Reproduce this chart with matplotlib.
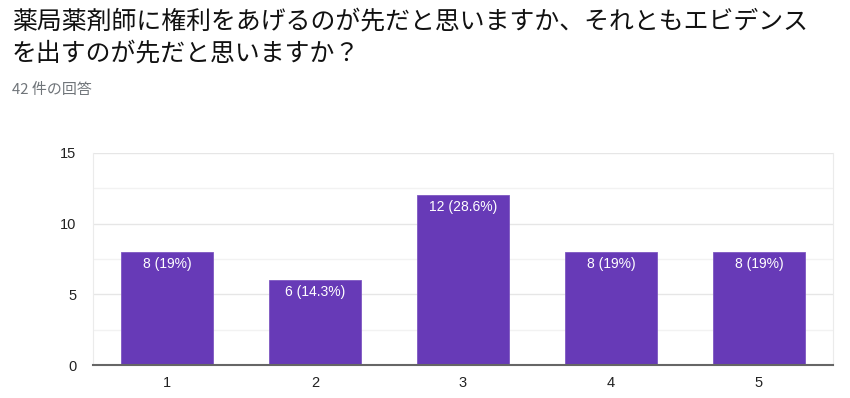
import matplotlib
matplotlib.use('Agg')
import matplotlib.pyplot as plt
from matplotlib.ticker import MultipleLocator

plt.rcParams['font.family'] = ['Noto Sans CJK JP', 'DejaVu Sans']

# data
categories = [1, 2, 3, 4, 5]
counts = [8, 6, 12, 8, 8]
labels = ['8 (19%)', '6 (14.3%)', '12 (28.6%)', '8 (19%)', '8 (19%)']

title = '薬局薬剤師に権利をあげるのが先だと思いますか、それともエビデンス\nを出すのが先だと思いますか？'
subtitle = '42 件の回答'

fig = plt.figure(figsize=(8.5, 3.98), dpi=100)
ax = fig.add_axes([0.1094, 0.0829, 0.8706, 0.5327])

bars = ax.bar(categories, counts, width=0.62, color='#673ab7',
              edgecolor='#7e57c2', linewidth=0.6, zorder=3)

for b, lab in zip(bars, labels):
    ax.annotate(lab, (b.get_x() + b.get_width() / 2, b.get_height()),
                xytext=(0, -3.5), textcoords='offset points',
                ha='center', va='top', color='white', fontsize=10,
                family=['Liberation Sans', 'DejaVu Sans'], zorder=4)

ax.set_xlim(0.5, 5.5)
ax.set_ylim(0, 15)
ax.set_xticks(categories)
ax.yaxis.set_major_locator(MultipleLocator(5))
ax.yaxis.set_minor_locator(MultipleLocator(2.5))
ax.grid(axis='y', which='major', color='#e6e6e6', linewidth=1, zorder=0)
ax.grid(axis='y', which='minor', color='#f2f2f2', linewidth=1, zorder=0)

ax.spines['top'].set_visible(False)
ax.spines['left'].set_color('#ebebeb')
ax.spines['right'].set_color('#ebebeb')
ax.spines['bottom'].set_color('#666666')
ax.spines['bottom'].set_linewidth(1.5)
ax.spines['bottom'].set_zorder(5)

ax.tick_params(axis='both', which='both', length=0, labelsize=10.5, colors='#222222', pad=8)
ax.tick_params(axis='y', pad=12)
for t in ax.get_xticklabels() + ax.get_yticklabels():
    t.set_family(['Liberation Sans', 'DejaVu Sans'])

fig.text(12 / 850, 1 - 8 / 398, title, ha='left', va='top', fontsize=17.9,
         color='#111111', linespacing=1.33)
fig.text(12 / 850, 1 - 90 / 398, subtitle, ha='left', va='center', fontsize=10.8,
         color='#70757a')

fig.savefig('out.png', dpi=100)
